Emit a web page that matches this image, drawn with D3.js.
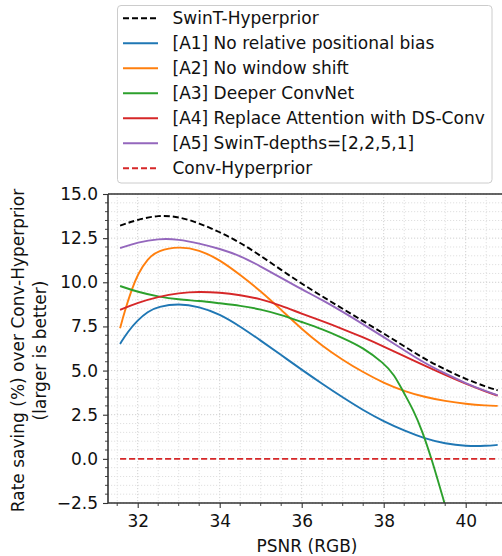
<!DOCTYPE html>
<html>
<head>
<meta charset="utf-8">
<script src="https://cdn.jsdelivr.net/npm/d3@7"></script>
<style>
  html, body { margin: 0; padding: 0; background: #fff; }
  svg { display: block; font-family: "DejaVu Sans", sans-serif; }
</style>
</head>
<body>
<svg id="chart" width="502" height="556"></svg>
<script>
// ---------------- data ----------------
const seriesNames = [
  "SwinT-Hyperprior",
  "[A1] No relative positional bias",
  "[A2] No window shift",
  "[A3] Deeper ConvNet",
  "[A4] Replace Attention with DS-Conv",
  "[A5] SwinT-depths=[2,2,5,1]",
  "Conv-Hyperprior"
];
const seriesColors = ["#000000", "#1f77b4", "#ff7f0e", "#2ca02c", "#d62728", "#9467bd", "#d62728"];
const seriesDashed = [true, false, false, false, false, false, true];

const psnrCommon = [31.57, 32, 32.5, 33, 33.5, 34, 34.5, 35, 35.5, 36, 36.5, 37, 37.5, 38, 38.5, 39, 39.5, 40, 40.5, 40.78];
const swinT = [13.21, 13.55, 13.8, 13.72, 13.35, 12.85, 12.25, 11.5, 10.7, 9.92, 9.2, 8.5, 7.8, 7.1, 6.38, 5.65, 5.06, 4.52, 4.08, 3.88];
const a5Vals = [11.93, 12.27, 12.47, 12.44, 12.2, 11.9, 11.5, 10.9, 10.25, 9.6, 9.0, 8.33, 7.62, 6.9, 6.15, 5.42, 4.83, 4.28, 3.82, 3.6];
const a4Vals = [8.44, 8.85, 9.18, 9.4, 9.47, 9.42, 9.28, 9.06, 8.68, 8.22, 7.8, 7.36, 6.88, 6.36, 5.82, 5.27, 4.75, 4.25, 3.8, 3.58];

const a1Psnr = [31.57, 31.76, 32, 32.24, 32.5, 33, 33.5, 34, 34.5, 35, 35.5, 36, 36.5, 37, 37.5, 38, 38.5, 39, 39.5, 40, 40.5, 40.78];
const a1Vals = [6.51, 7.21, 7.85, 8.34, 8.62, 8.8, 8.62, 8.2, 7.5, 6.7, 5.88, 5.05, 4.25, 3.48, 2.75, 2.12, 1.6, 1.15, 0.86, 0.72, 0.73, 0.79];

const a2Psnr = [31.57, 31.68, 31.85, 32, 32.24, 32.5, 33, 33.5, 34, 34.5, 35, 35.5, 36, 36.5, 37, 37.5, 38, 38.5, 39, 39.5, 40, 40.5, 40.78];
const a2Vals = [7.40, 8.34, 9.57, 10.45, 11.35, 11.8, 12.03, 11.85, 11.27, 10.42, 9.5, 8.44, 7.35, 6.4, 5.6, 4.9, 4.3, 3.83, 3.5, 3.27, 3.11, 3.02, 3.0];

const a3Psnr = [31.57, 32, 32.5, 33, 33.5, 34, 34.5, 35, 35.5, 36, 36.5, 37, 37.5, 38, 38.25, 38.5, 38.72, 38.93, 39.17, 39.5];
const a3Vals = [9.79, 9.45, 9.19, 9.02, 8.95, 8.81, 8.68, 8.47, 8.16, 7.75, 7.35, 6.85, 6.3, 5.42, 4.8, 3.7, 2.78, 1.64, 0.0, -2.65];

const convPsnr = [31.57, 40.78];
const convVals = [0, 0];

const xTickValues = [32, 34, 36, 38, 40];
const yTickValues = [-2.5, 0, 2.5, 5, 7.5, 10, 12.5, 15];

const seriesX = [psnrCommon, a1Psnr, a2Psnr, a3Psnr, psnrCommon, psnrCommon, convPsnr];
const seriesY = [swinT, a1Vals, a2Vals, a3Vals, a4Vals, a5Vals, convVals];

// ---------------- layout ----------------
const svg = d3.select("#chart");
const pLeft = 108, pRight = 505, pTop = 194, pBottom = 503;
const FS = 17;

const x = d3.scaleLinear()
  .domain([32 - 29.7 / 41, 32 + (pRight - 137.7) / 41])
  .range([pLeft, pRight]);
const y = d3.scaleLinear().domain([-2.5, 15]).range([pBottom, pTop]);

// clip
svg.append("defs").append("clipPath").attr("id", "plotclip")
  .append("rect").attr("x", pLeft).attr("y", pTop).attr("width", pRight - pLeft).attr("height", pBottom - pTop);

// grid
const gridG = svg.append("g");
const minorX = d3.range(31.5, 41.01, 0.5).filter(v => x(v) >= pLeft && x(v) <= pRight);
const minorY = d3.range(-2.5, 15.01, 0.5);
gridG.selectAll("line.vx").data(minorX).join("line")
  .attr("x1", d => x(d)).attr("x2", d => x(d)).attr("y1", pTop).attr("y2", pBottom)
  .attr("stroke", d => xTickValues.includes(d) ? "#d0d0d0" : "#e0e0e0")
  .attr("stroke-width", 1).attr("stroke-dasharray", "1.2,1.8");
gridG.selectAll("line.hy").data(minorY).join("line")
  .attr("y1", d => y(d)).attr("y2", d => y(d)).attr("x1", pLeft).attr("x2", pRight)
  .attr("stroke", d => yTickValues.some(t => Math.abs(t - d) < 1e-9) ? "#d0d0d0" : "#e0e0e0")
  .attr("stroke-width", 1).attr("stroke-dasharray", "1.2,1.8");

// lines
const plotG = svg.append("g").attr("clip-path", "url(#plotclip)");
const lineGen = d3.line().x(d => x(d[0])).y(d => y(d[1])).curve(d3.curveBasis);
seriesNames.forEach((name, i) => {
  const pts = seriesX[i].map((v, j) => [v, seriesY[i][j]]);
  plotG.append("path")
    .attr("d", lineGen(pts))
    .attr("fill", "none")
    .attr("stroke", seriesColors[i])
    .attr("stroke-width", 1.9)
    .attr("stroke-dasharray", seriesDashed[i] ? "6,3" : null);
});

// axes
const fmtY = v => (v < 0 ? "\u2212" : "") + Math.abs(v).toFixed(1);
const yAxis = svg.append("g").attr("transform", `translate(${pLeft},0)`)
  .call(d3.axisLeft(y).tickValues(yTickValues).tickFormat(fmtY).tickSize(5).tickPadding(5));
const xAxis = svg.append("g").attr("transform", `translate(0,${pBottom})`)
  .call(d3.axisBottom(x).tickValues(xTickValues).tickFormat(d3.format("d")).tickSize(5).tickPadding(7));
[yAxis, xAxis].forEach(g => {
  g.select(".domain").remove();
  g.selectAll("text").attr("font-size", FS).attr("fill", "#111").attr("font-family", "DejaVu Sans, sans-serif");
  g.selectAll(".tick line").attr("stroke", "#333").attr("stroke-width", 1.1);
});
// minor ticks
svg.append("g").selectAll("line").data(minorY.filter(v => !yTickValues.some(t => Math.abs(t - v) < 1e-9))).join("line")
  .attr("x1", pLeft - 3).attr("x2", pLeft).attr("y1", d => y(d)).attr("y2", d => y(d))
  .attr("stroke", "#333").attr("stroke-width", 0.9);
svg.append("g").selectAll("line").data(minorX.filter(v => !xTickValues.includes(v))).join("line")
  .attr("y1", pBottom).attr("y2", pBottom + 3).attr("x1", d => x(d)).attr("x2", d => x(d))
  .attr("stroke", "#333").attr("stroke-width", 0.9);

// spines
svg.append("line").attr("x1", pLeft).attr("x2", pLeft).attr("y1", pTop).attr("y2", pBottom).attr("stroke", "#333").attr("stroke-width", 1.6);
svg.append("line").attr("x1", pLeft).attr("x2", pRight).attr("y1", pBottom).attr("y2", pBottom).attr("stroke", "#333").attr("stroke-width", 1.6);
svg.append("line").attr("x1", pLeft).attr("x2", pRight).attr("y1", pTop).attr("y2", pTop).attr("stroke", "#333").attr("stroke-width", 1.6);

// axis labels
svg.append("text").attr("x", 307).attr("y", 552).attr("text-anchor", "middle")
  .attr("font-size", FS).attr("fill", "#111").text("PSNR (RGB)");
const yl = svg.append("text").attr("transform", `translate(24,${(pTop + pBottom) / 2 + 2}) rotate(-90)`)
  .attr("text-anchor", "middle").attr("font-size", FS).attr("fill", "#111");
yl.append("tspan").attr("x", 0).attr("dy", 0).text("Rate saving (%) over Conv-Hyperprior");
yl.append("tspan").attr("x", 0).attr("dy", 22).text("(larger is better)");

// legend
const lg = svg.append("g");
lg.append("rect").attr("x", 117.5).attr("y", 5.5).attr("width", 374.5).attr("height", 177.5)
  .attr("rx", 3.5).attr("fill", "#fff").attr("fill-opacity", 0.85).attr("stroke", "#cccccc").attr("stroke-width", 1);
seriesNames.forEach((name, i) => {
  const yy = 18.3 + 25 * i;
  lg.append("line").attr("x1", 123).attr("x2", 158).attr("y1", yy).attr("y2", yy)
    .attr("stroke", seriesColors[i]).attr("stroke-width", 1.9)
    .attr("stroke-dasharray", seriesDashed[i] ? "6,3" : null);
  lg.append("text").attr("x", 172.5).attr("y", yy).attr("dy", "0.36em")
    .attr("font-size", FS).attr("fill", "#111").text(name);
});
</script>
</body>
</html>
